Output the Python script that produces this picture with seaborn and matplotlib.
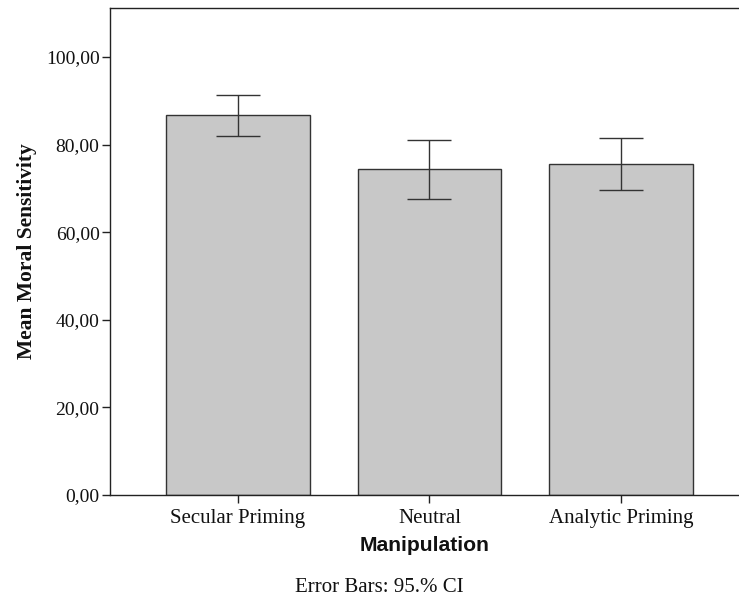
import matplotlib
matplotlib.use('Agg')
import matplotlib.pyplot as plt
import seaborn as sns
import pandas as pd

# data
conditions = ['Secular Priming', 'Neutral', 'Analytic Priming']
means = [86.8, 74.4, 75.6]
ci_low = [82.0, 67.6, 69.7]
ci_high = [91.3, 81.1, 81.6]

df = pd.DataFrame({'Manipulation': conditions, 'Mean': means})

sns.set_style('white')
plt.rcParams['font.family'] = ['Liberation Serif', 'DejaVu Serif']

fig = plt.figure(figsize=(7.39, 5.97), dpi=100)
ax = fig.add_axes([0.1488, 0.1709, 0.8512, 0.8157])

sns.barplot(data=df, x='Manipulation', y='Mean', order=conditions,
            color='#c8c8c8', edgecolor='#333333', linewidth=1.0,
            width=0.75, saturation=1, errorbar=None, ax=ax)

yerr = [[m - lo for m, lo in zip(means, ci_low)],
        [hi - m for m, hi in zip(means, ci_high)]]
ax.errorbar(range(len(conditions)), means, yerr=yerr, fmt='none',
            ecolor='#333333', elinewidth=1.0, capsize=16, capthick=1.0)

ax.set_xlim(-0.668, 2.616)
ax.set_ylim(0, 111.2)
ax.set_yticks([0, 20, 40, 60, 80, 100])
ax.set_yticklabels(['0,00', '20,00', '40,00', '60,00', '80,00', '100,00'])

for side in ['left', 'bottom', 'top']:
    ax.spines[side].set_color('#222222')
    ax.spines[side].set_linewidth(1.0)
ax.spines['right'].set_visible(False)

ax.tick_params(axis='both', direction='out', width=1.0,
               color='#222222', labelcolor='#111111')
ax.tick_params(axis='x', bottom=True, length=6, pad=4, labelsize=15)
ax.tick_params(axis='y', left=True, length=6, pad=1.5, labelsize=14)

ax.set_ylabel('Mean Moral Sensitivity', fontsize=15.5, fontweight='bold',
              color='#111111', labelpad=6)
ax.set_xlabel('Manipulation', fontsize=15.2, fontweight='bold',
              family=['Liberation Sans', 'DejaVu Sans'], color='#111111',
              labelpad=6)

fig.text(0.5135, 0.009, 'Error Bars: 95.% CI', ha='center', va='baseline',
         fontsize=15, color='#111111')

fig.savefig('out.png', dpi=100)
